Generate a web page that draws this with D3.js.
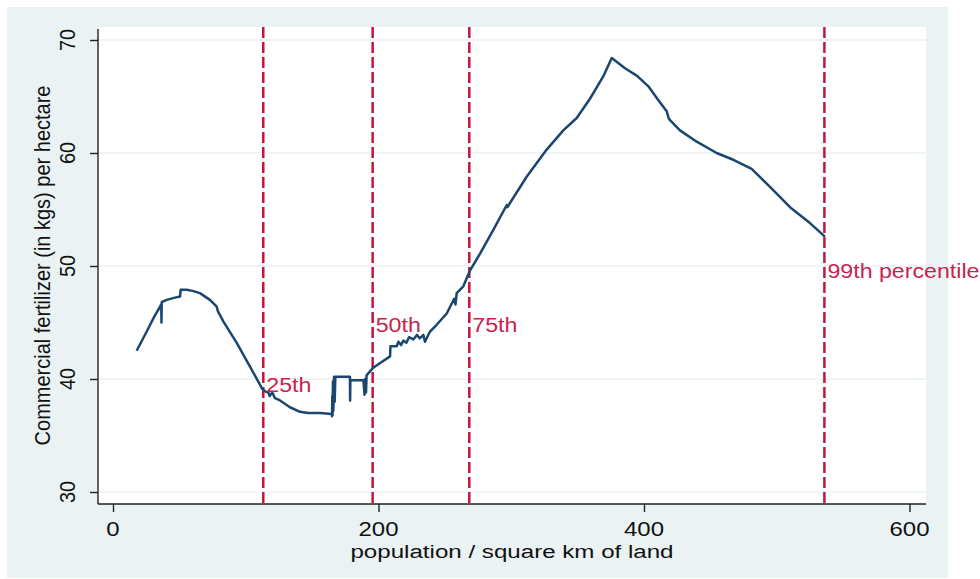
<!DOCTYPE html>
<html>
<head>
<meta charset="utf-8">
<script src="https://cdn.jsdelivr.net/npm/d3@7"></script>
<style>
  body { margin: 0; background: #fff; }
  svg { display: block; }
</style>
</head>
<body>
<div id="chart"></div>
<script>
// population / km2 (x) and fertilizer kg/ha (y)
const popDensity = [17.8, 25.4, 31, 36.4, 36.5, 36.7, 40.4, 46.7, 50.5, 51, 55.5, 60, 65.5, 73, 78.1, 79, 83.1, 93.2, 103.2,
  110.7, 112, 114.5, 117, 118, 120, 122, 125.8, 133.3, 140.9, 147.1, 156, 164.7, 165, 165.2, 165.4, 165.7, 166, 166.5, 167,
  167.5, 169, 178.5, 178.6, 178.8, 188.6, 189.5, 190, 190.6, 191, 192.3, 196, 201, 208.7, 209, 213.7, 215, 217, 218.7, 221,
  223, 226.2, 229, 231, 233.8, 235, 238.8, 243.8, 251.4, 257, 258, 258.9, 263.9, 268.9, 276.5, 286.5, 296.6, 297, 311.6,
  326.7, 339.2, 349.3, 359.3, 369.4, 375.7, 385.7, 395, 403.3, 410, 417.1, 418.5, 419.6, 427.1, 439.7, 454.7, 467.3, 481.1,
  494.9, 510, 525, 536.3];
const fertilizer = [42.5, 44.2, 45.5, 46.6, 45.0, 46.8, 47.0, 47.2, 47.3, 47.9, 47.9, 47.8, 47.6, 47.0, 46.4, 46.0, 45.1, 43.2, 41.1,
  39.5, 39.2, 38.9, 38.8, 38.5, 38.8, 38.3, 38.1, 37.5, 37.1, 37.0, 37.0, 36.9, 36.7, 38.5, 36.8, 39.8, 37.2, 40.2, 38.0,
  40.2, 40.2, 40.2, 38.1, 39.9, 39.9, 38.6, 40.0, 38.8, 40.3, 40.5, 41.0, 41.4, 42.0, 42.9, 42.9, 43.3, 43.0, 43.4, 43.2,
  43.7, 43.5, 43.9, 43.6, 43.9, 43.3, 44.2, 44.8, 45.8, 47.1, 46.6, 47.6, 48.2, 49.6, 51.1, 53.2, 55.4, 55.2, 57.9,
  60.3, 62.0, 63.1, 64.8, 66.8, 68.4, 67.5, 66.8, 65.9, 64.8, 63.7, 63.1, 62.9, 62.0, 61.0, 60.0, 59.4, 58.6,
  57.0, 55.2, 53.8, 52.6];

const pctValues = [113.2, 195.6, 268.4, 535.9];
const pctLabels = ['25th', '50th', '75th', '99th percentile'];
const pctLabelY = [39.7, 45.0, 45.0, 49.8];

const xTicks = [0, 200, 400, 600];
const yTicks = [30, 40, 50, 60, 70];
const xTitle = 'population / square km of land';
const yTitle = 'Commercial fertilizer (in kgs) per hectare';

const W = 980, H = 579;
const plot = { left: 98, right: 926, top: 27, bottom: 504 };
const FONT = 'Liberation Sans, Arial, sans-serif';
const RED = '#c8143c', NAVY = '#1a476f', BG = '#eaf2f3';

const svg = d3.select('#chart').append('svg').attr('width', W).attr('height', H);

const x = d3.scaleLinear().domain([0, 600]).range([113, 909.5]);
const y = d3.scaleLinear().domain([30, 70]).range([492, 40]);

// graph region + plot region
svg.append('rect').attr('x', 7).attr('y', 7).attr('width', 941).attr('height', 571).attr('fill', BG);
svg.append('rect').attr('x', plot.left).attr('y', plot.top)
  .attr('width', plot.right - plot.left).attr('height', plot.bottom - plot.top).attr('fill', '#fff');

// gridlines
svg.selectAll('.grid').data(yTicks).join('line').attr('class', 'grid')
  .attr('x1', plot.left).attr('x2', plot.right)
  .attr('y1', d => y(d)).attr('y2', d => y(d))
  .attr('stroke', BG).attr('stroke-width', 1.5);

// axes
const yAxis = svg.append('g').attr('transform', `translate(${plot.left},0)`)
  .call(d3.axisLeft(y).tickValues(yTicks).tickSize(8).tickFormat(''));
const xAxis = svg.append('g').attr('transform', `translate(0,${plot.bottom})`)
  .call(d3.axisBottom(x).tickValues(xTicks).tickSize(8).tickFormat(''));
yAxis.select('.domain').attr('d', `M0,${plot.top + 2}V${plot.bottom}`);
xAxis.select('.domain').attr('d', `M${plot.left},0H${plot.right}`);
svg.selectAll('.domain, .tick line').attr('stroke', '#222').attr('stroke-width', 1.4);

// tick labels (the source image is stretched sideways a little)
svg.selectAll('.xlab').data(xTicks).join('text').attr('class', 'xlab')
  .attr('transform', d => `translate(${x(d)},536) scale(1.2,1)`)
  .attr('text-anchor', 'middle').attr('font-family', FONT).attr('font-size', 20).attr('fill', '#111')
  .text(d => d);
svg.selectAll('.ylab').data(yTicks).join('text').attr('class', 'ylab')
  .attr('transform', d => `translate(75,${y(d)}) scale(1.12,1) rotate(-90)`)
  .attr('text-anchor', 'middle').attr('font-family', FONT).attr('font-size', 20).attr('fill', '#111')
  .text(d => d);

// axis titles
svg.append('text')
  .attr('transform', `translate(${(plot.left + plot.right) / 2},557.5) scale(1.27,1)`)
  .attr('text-anchor', 'middle').attr('font-family', FONT).attr('font-size', 19).attr('fill', '#111')
  .text(xTitle);
svg.append('text')
  .attr('transform', `translate(50,${(plot.top + plot.bottom) / 2}) scale(1.12,1) rotate(-90)`)
  .attr('text-anchor', 'middle').attr('font-family', FONT).attr('font-size', 20).attr('fill', '#111')
  .text(yTitle);

// percentile markers
svg.selectAll('.pct').data(pctValues).join('line').attr('class', 'pct')
  .attr('x1', d => x(d)).attr('x2', d => x(d))
  .attr('y1', plot.top).attr('y2', plot.bottom)
  .attr('stroke', RED).attr('stroke-width', 2.5).attr('stroke-dasharray', '11,4');

// the curve
const pts = popDensity.map((d, i) => [d, fertilizer[i]]);
svg.append('path').datum(pts)
  .attr('d', d3.line().x(d => x(d[0])).y(d => y(d[1])))
  .attr('fill', 'none').attr('stroke', NAVY).attr('stroke-width', 2.5).attr('stroke-linejoin', 'round');

svg.selectAll('.pct-label').data(pctValues).join('text').attr('class', 'pct-label')
  .attr('transform', (d, i) => `translate(${x(d) + 3},${y(pctLabelY[i]) + 3}) scale(1.16,1)`)
  .attr('dominant-baseline', 'central')
  .attr('font-family', FONT).attr('font-size', 20).attr('fill', '#c8244f')
  .text((d, i) => pctLabels[i]);
</script>
</body>
</html>
